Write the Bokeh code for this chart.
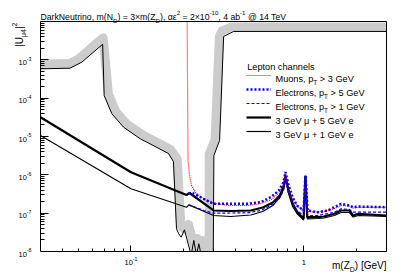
import math
from bokeh.plotting import figure
from bokeh.models import Label, FixedTicker, Legend, LegendItem, Range1d, BoxAnnotation
from bokeh.embed import file_html
from bokeh.resources import INLINE

# ---------------- data ----------------
x_lim = [0.03, 0.0444, 0.0520, 0.0686, 0.0700, 0.0776, 0.0906, 0.1132, 0.1646, 0.176,
         0.1833, 0.1889, 0.195, 0.2038, 0.2229, 0.2308, 0.2393, 0.2468, 0.2548, 0.2991,
         0.3015, 0.3254, 0.3433, 0.3924, 3.0]
y_lim = [5.83e-4, 6.05e-4, 8.69e-4, 2.55e-3, 1.17e-4, 3.91e-5, 1.75e-5, 8.71e-6, 3.61e-6, 2.23e-6,
         3.91e-8, 2.9e-8, 2.36e-8, 3.68e-8, 8e-9, 1.94e-8, 8e-9, 1.59e-8, 8e-9, 8e-9,
         3.2e-6, 7.87e-6, 4.06e-3, 5.5e-3, 5.5e-3]
x_band = [0.03, 0.0444, 0.0499, 0.0661, 0.0691, 0.0741, 0.0819, 0.0952, 0.1173, 0.169,
          0.1852, 0.1945, 0.2052, 0.215, 0.2346, 0.2418, 0.2518, 0.2594, 0.27, 0.2832,
          0.2832, 0.3064, 0.3245, 0.3366, 0.3822, 3.0]
y_band = [7.8e-4, 8.04e-4, 1.06e-3, 3.21e-3, 3.72e-3, 1.29e-4, 4.37e-5, 2.06e-5, 1.09e-5, 4.58e-6,
          2.58e-6, 4.49e-8, 3.75e-8, 5.06e-8, 1.13e-8, 2.18e-8, 1.06e-8, 1.94e-8, 8e-9, 8e-9,
          3.4e-6, 8.36e-6, 4.06e-3, 5.66e-3, 7.2e-3, 7.2e-3]

x_mu3 = [0.2113, 0.2137, 0.218, 0.2239, 0.2361, 0.2628, 0.3004, 0.377, 0.4732, 0.563,
         0.6434, 0.7161, 0.7655, 0.782, 0.8042, 0.8406, 0.9108, 0.995, 1.02, 1.045,
         1.174, 1.306, 1.499, 1.639, 1.832, 1.924, 2.058, 3.0]
y_mu3 = [1e-2, 2.37e-6, 9.62e-7, 5.27e-7, 3.46e-7, 2.34e-7, 1.79e-7, 1.585e-7, 1.585e-7, 1.79e-7,
         2.21e-7, 3.26e-7, 5.94e-7, 1.15e-6, 4.97e-7, 2.72e-7, 1.585e-7, 1.105e-7, 8.03e-7, 1.105e-7,
         1.073e-7, 1.105e-7, 1.32e-7, 1.585e-7, 1.54e-7, 1.36e-7, 1.41e-7, 1.41e-7]

x_e5 = [0.2151, 0.2299, 0.2628, 0.3004, 0.377, 0.4732, 0.563, 0.6434, 0.7161, 0.7625,
        0.782, 0.8108, 0.8598, 0.9108, 0.995, 1.02, 1.05, 1.201, 1.373, 1.499,
        1.639, 1.832, 1.924, 2.058, 3.0]
y_e5 = [3.36e-7, 3.26e-7, 2.37e-7, 1.76e-7, 1.76e-7, 1.76e-7, 1.93e-7, 2.61e-7, 3.90e-7, 6.43e-7,
        1.186e-6, 5.84e-7, 2.61e-7, 1.585e-7, 1.175e-7, 9.62e-7, 1.175e-7, 1.06e-7, 1.175e-7, 1.43e-7,
        1.76e-7, 1.585e-7, 1.43e-7, 1.49e-7, 1.43e-7]

x_e1 = [0.2158, 0.2361, 0.2638, 0.3004, 0.4715, 0.563, 0.6434, 0.719, 0.7625, 0.782,
        0.8108, 0.8598, 0.9108, 0.995, 1.02, 1.05, 1.201, 1.499, 1.639, 1.832, 1.92, 3.0]
y_e1 = [1.65e-7, 1.43e-7, 1.175e-7, 9.98e-8, 1.02e-7, 1.175e-7, 1.585e-7, 2.37e-7, 3.90e-7, 9.62e-7,
        3.52e-7, 1.76e-7, 1.175e-7, 8.69e-8, 8.68e-7, 8.69e-8, 8.69e-8, 1.06e-7, 1.30e-7, 1.25e-7, 1.06e-7, 1.06e-7]

x_mu5e = [0.03, 0.1, 0.2094, 0.218, 0.3004, 0.377, 0.4925, 0.5781, 0.6607, 0.7257,
          0.7655, 0.782, 0.8108, 0.8598, 0.9108, 0.995, 1.02, 1.045, 1.201, 1.306,
          1.499, 1.639, 1.832, 1.924, 2.058, 3.0]
y_mu5e = [3.19e-5, 1.17e-6, 2.98e-7, 3.36e-7, 1.175e-7, 1.14e-7, 1.175e-7, 1.41e-7, 1.90e-7, 2.89e-7,
          5.27e-7, 9.06e-7, 4.41e-7, 1.79e-7, 1.105e-7, 7.13e-8, 9.62e-7, 7.85e-8, 7.85e-8, 8.18e-8,
          9.63e-8, 1.175e-7, 1.175e-7, 8.69e-8, 9.63e-8, 8.69e-8]

x_mu1e = [0.03, 0.1, 0.2094, 0.2165, 0.3004, 0.377, 0.4925, 0.5781, 0.6607, 0.7257,
          0.7655, 0.782, 0.8108, 0.8598, 0.9108, 0.995, 1.02, 1.045, 1.201, 1.306,
          1.499, 1.639, 1.832, 1.924, 2.058, 3.0]
y_mu1e = [1.06e-5, 4.33e-7, 1.43e-7, 1.65e-7, 8.69e-8, 8.18e-8, 8.96e-8, 1.105e-7, 1.585e-7, 2.57e-7,
          4.41e-7, 8.03e-7, 3.46e-7, 1.49e-7, 9.80e-8, 6.64e-8, 8.53e-7, 7.13e-8, 7.26e-8, 7.48e-8,
          8.69e-8, 1.04e-7, 1.04e-7, 7.94e-8, 8.69e-8, 8.18e-8]

y_tick_exps = [-8, -7, -6, -5, -4, -3]
x_major = [0.1, 1.0]
x_minor = [0.04, 0.05, 0.06, 0.07, 0.08, 0.09, 0.2, 0.3, 0.4, 0.5, 0.6, 0.7, 0.8, 0.9, 2.0, 3.0]

legend_header = "Lepton channels"
legend_labels = [
    [("Muons, p", "n"), ("T", "sub"), (" > 3 GeV", "n")],
    [("Electrons, p", "n"), ("T", "sub"), (" > 5 GeV", "n")],
    [("Electrons, p", "n"), ("T", "sub"), (" > 1 GeV", "n")],
    [("3 GeV \u03bc + 5 GeV e", "n")],
    [("3 GeV \u03bc + 1 GeV e", "n")],
]
title_segs = [("DarkNeutrino, m(N", "n"), ("D", "sub"), (") = 3\u00d7m(Z", "n"), ("D", "sub"),
              ("), \u03b1\u03b5", "n"), ("2", "sup"), (" = 2\u00d710", "n"), ("-10", "sup"),
              (", 4 ab", "n"), ("-1", "sup"), (" @ 14 TeV", "n")]
xlabel_segs = [("m(Z", "n"), ("D", "sub"), (") [GeV]", "n")]
ylabel_segs = [("|U", "n"), ("\u03bc4", "sub"), ("|", "n"), ("2", "sup")]

# ---------------- geometry ----------------
XMIN, XMAX, YMIN, YMAX = 0.03, 3.0, 1e-8, 1e-2
CW, CH = 407, 279                 # canvas
MB = 2                            # border around the (whole-canvas) frame
FL, FT, FR, FB = MB, MB, CW - MB, CH - MB
BL, BT, BR, BB = 40, 21, 386, 251 # pixel box of the axes
xdec = (BR - BL) / (math.log10(XMAX) - math.log10(XMIN))
ydec = (BB - BT) / (math.log10(YMAX) - math.log10(YMIN))
x_start = 10 ** (math.log10(XMIN) - (BL - FL) / xdec)
x_end = 10 ** (math.log10(XMAX) + (FR - BR) / xdec)
y_start = 10 ** (math.log10(YMIN) - (FB - BB) / ydec)
y_end = 10 ** (math.log10(YMAX) + (BT - FT) / ydec)


def px2x(px):
    return 10 ** (math.log10(XMIN) + (px - BL) / xdec)


def py2y(py):
    return 10 ** (math.log10(YMIN) + (BB - py) / ydec)


p = figure(width=CW, height=CH, x_axis_type="log", y_axis_type="log",
           x_range=Range1d(x_start, x_end), y_range=Range1d(y_start, y_end),
           output_backend="svg", toolbar_location=None,
           min_border_left=MB, min_border_right=MB, min_border_top=MB, min_border_bottom=MB)
p.title.visible = False
p.xgrid.visible = False
p.ygrid.visible = False
p.outline_line_color = None
p.background_fill_color = "white"
p.border_fill_color = "white"

for ax in (p.xaxis[0], p.yaxis[0]):
    ax.axis_line_color = None
    ax.major_tick_line_color = "black"
    ax.minor_tick_line_color = "black"
    ax.major_tick_out = 0
    ax.minor_tick_out = 0
    ax.major_label_text_font_size = "1px"
    ax.major_label_text_alpha = 0
    ax.major_label_standoff = 0
p.xaxis.fixed_location = YMIN
p.xaxis.bounds = (XMIN, XMAX)
p.yaxis.fixed_location = XMIN
p.yaxis.bounds = (YMIN, YMAX)
p.xaxis.major_tick_in = 6
p.xaxis.minor_tick_in = 3
p.yaxis.major_tick_in = 8
p.yaxis.minor_tick_in = 4
p.xaxis.ticker = FixedTicker(ticks=x_major, minor_ticks=x_minor)
p.yaxis.ticker = FixedTicker(ticks=[10.0 ** e for e in y_tick_exps] + [1e-2],
                             minor_ticks=[m * 10.0 ** e for e in range(-8, -2) for m in range(2, 10)])

# ---------------- curves ----------------
p.line(x_band, y_band, line_color="#cccccc", line_width=9, line_join="round")
p.line(x_lim, y_lim, line_color="black", line_width=1)
r_mu5e = p.line(x_mu5e, y_mu5e, line_color="black", line_width=2.2)
r_mu1e = p.line(x_mu1e, y_mu1e, line_color="black", line_width=1.2)
r_mu3 = p.line(x_mu3, y_mu3, line_color="#ff0000", line_width=1.2, line_dash="1 1")
r_e1 = p.line(x_e1, y_e1, line_color="#0000ff", line_width=1.2, line_dash="3 2")
r_e5 = p.line(x_e5, y_e5, line_color="#0000ff", line_width=2.5, line_dash="2 2")

# white masks outside the axes box, then the box itself
for kw in (dict(top=YMIN), dict(bottom=YMAX), dict(right=XMIN), dict(left=XMAX)):
    p.add_layout(BoxAnnotation(fill_color="white", fill_alpha=1.0, line_color=None, **kw))
p.add_layout(BoxAnnotation(left=XMIN, right=XMAX, bottom=YMIN, top=YMAX, fill_color=None,
                           fill_alpha=0, line_color="black", line_width=1, line_alpha=1))

legend = Legend(items=[LegendItem(label=" ", renderers=[r]) for r in (r_mu3, r_e5, r_e1, r_mu5e, r_mu1e)],
                location=(246 - FL, FB - 138), orientation="vertical", glyph_width=25, glyph_height=14,
                label_height=14, label_width=2, spacing=0, padding=0, margin=0, label_standoff=0,
                border_line_color=None, background_fill_alpha=0, label_text_font_size="2px")
p.add_layout(legend)

# ---------------- rich text ----------------
FONT = "Liberation Sans"
W = {' ': 278, ',': 278, '(': 333, ')': 333, '=': 584, '\u00d7': 584, '@': 1015, '-': 333, '>': 584,
     '+': 584, '|': 260, '[': 278, ']': 278, '.': 278, 'A': 667, 'D': 722, 'E': 667, 'G': 778,
     'L': 556, 'M': 833, 'N': 722, 'T': 611, 'U': 722, 'V': 667, 'Z': 611, 'a': 556, 'b': 556,
     'c': 500, 'd': 556, 'e': 556, 'g': 556, 'h': 556, 'i': 222, 'k': 500, 'l': 222, 'm': 833,
     'n': 556, 'o': 556, 'p': 556, 'r': 333, 's': 500, 't': 278, 'u': 556, 'v': 500,
     '\u03bc': 576, '\u03b1': 578, '\u03b5': 446}


def tw(s, size):
    return sum(W.get(c, 556) for c in s) * size / 1000.0


def add_text(t, size, **kw):
    p.add_layout(Label(text=t, text_font=FONT, text_font_size=f"{size:.2f}px", text_color="black",
                       text_align="left", text_baseline="alphabetic", **kw))


def rich(segs, ax, ay, dx, dy, size, align="left"):
    """Horizontal rich text; (dx, dy) pixel offset of the baseline start from a data anchor."""
    sizes = [size * (0.7 if k != "n" else 1.0) for _, k in segs]
    widths = [tw(t, s) for (t, _), s in zip(segs, sizes)]
    total = sum(widths)
    pos = {"left": 0.0, "right": -total, "center": -total / 2}[align]
    for (t, k), s, w in zip(segs, sizes, widths):
        shift = {"n": 0.0, "sub": -0.4 * size, "sup": 0.5 * size}[k]
        lead = len(t) - len(t.lstrip(" "))
        add_text(t.lstrip(" "), s, x=ax, y=ay, x_offset=dx + pos + tw(" " * lead, s), y_offset=-dy + shift)
        pos += w


def rich_vertical(segs, bx, top_py, size):
    """Text rotated 90 deg, baseline at page x=bx, ending at page y=top_py."""
    sizes = [size * (0.7 if k != "n" else 1.0) for _, k in segs]
    widths = [tw(t, s) for (t, _), s in zip(segs, sizes)]
    py = top_py + sum(widths)
    for (t, k), s, w in zip(segs, sizes, widths):
        shift = {"n": 0.0, "sub": -0.4 * size, "sup": 0.5 * size}[k]
        add_text(t, s, x=px2x(bx - shift), y=py2y(py), angle=math.pi / 2)
        py -= w


rich(title_segs, XMIN, YMAX, 0, -4.3, 8.7)
rich(xlabel_segs, XMAX, YMIN, 0, 14, 10, align="right")
rich_vertical(ylabel_segs, 18.5, 22, 10)
for e in y_tick_exps:
    rich([("10", "n"), (f"{e}", "sup")], XMIN, 10.0 ** e, -9, 2.7, 7.5, align="right")
rich([("10", "n"), ("-1", "sup")], 0.1, YMIN, 0, 11, 7.5, align="center")
rich([("1", "n")], 1.0, YMIN, 0, 11, 7.5, align="center")
rich([(legend_header, "n")], XMIN, YMAX, 206.7, 45, 9.2)
for i, segs in enumerate(legend_labels):
    rich(segs, XMIN, YMAX, 235, 57.3 + 14 * i, 9.2)

open("out.html", "w").write(file_html(p, INLINE))
